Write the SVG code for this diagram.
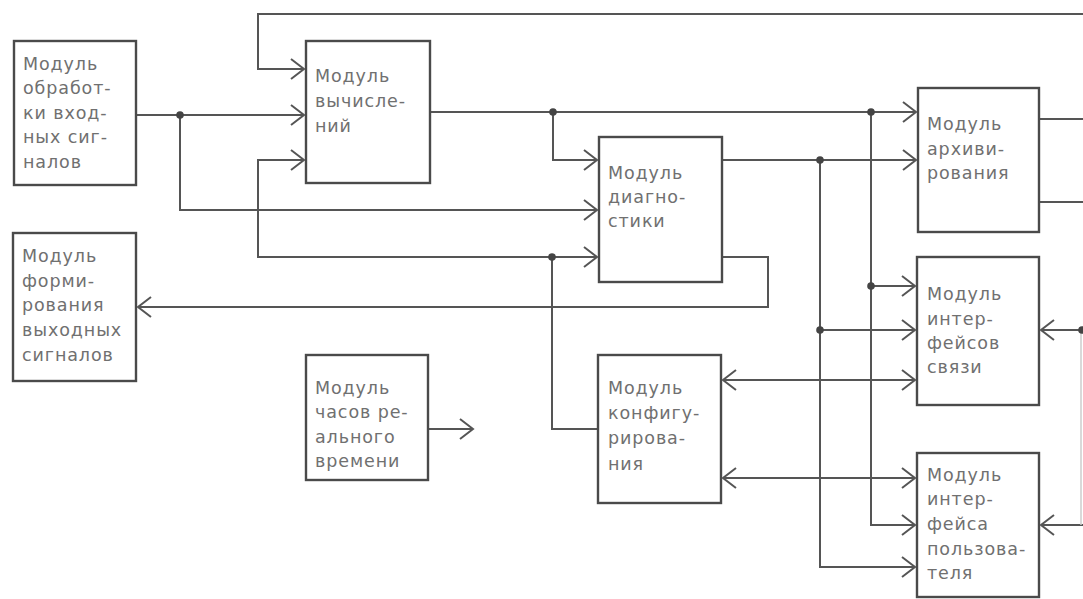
<svg xmlns="http://www.w3.org/2000/svg" width="1083" height="599" viewBox="0 0 1083 599">
<defs>
<style>
.box{fill:#fff;stroke:#4a4a4a;stroke-width:2.4}
.t{font-family:"DejaVu Sans","Liberation Sans",sans-serif;font-size:17.5px;fill:#707070;letter-spacing:0.9px}
.c{fill:none;stroke:#555;stroke-width:2}
.dot{fill:#444}
</style>
<marker id="a" viewBox="-14 -11 16 22" refX="0" refY="0" markerWidth="16" markerHeight="22" markerUnits="userSpaceOnUse" orient="auto-start-reverse">
<path d="M-13,-10 L0,0 L-13,10" fill="none" stroke="#555" stroke-width="2"/>
</marker>
</defs>
<rect width="1083" height="599" fill="#fff"/>
<g id="connectors">
<path class="c" d="M136,115 H304" marker-end="url(#a)"/>
<path class="c" d="M180,115 V210 H597" marker-end="url(#a)"/>
<path class="c" d="M1083,14 H258 V69 H304" marker-end="url(#a)"/>
<path class="c" d="M552,257 H258 V160 H304" marker-end="url(#a)"/>
<path class="c" d="M552,257 H597" marker-end="url(#a)"/>
<path class="c" d="M552,257 V429 H598"/>
<path class="c" d="M430,112 H916" marker-end="url(#a)"/>
<path class="c" d="M553,112 V160 H597" marker-end="url(#a)"/>
<path class="c" d="M871,112 V525 H915" marker-end="url(#a)"/>
<path class="c" d="M871,286 H915" marker-end="url(#a)"/>
<path class="c" d="M722,160 H916" marker-end="url(#a)"/>
<path class="c" d="M820,160 V567 H915" marker-end="url(#a)"/>
<path class="c" d="M820,330 H915" marker-end="url(#a)"/>
<path class="c" d="M722,257 H768 V307 H138" marker-end="url(#a)"/>
<path class="c" d="M723,380 H915" marker-start="url(#a)" marker-end="url(#a)"/>
<path class="c" d="M723,478 H915" marker-start="url(#a)" marker-end="url(#a)"/>
<path class="c" d="M428,429 H473" marker-end="url(#a)"/>
<path class="c" d="M1039,119 H1083"/>
<path class="c" d="M1039,202 H1083"/>
<path class="c" d="M1083,330 H1041" marker-end="url(#a)"/>
<path class="c" d="M1083,525 H1041" marker-end="url(#a)"/>
<path d="M1081,330 V525" fill="none" stroke="#ccc" stroke-width="1.5"/>
<circle class="dot" cx="180" cy="115" r="3.8"/>
<circle class="dot" cx="553" cy="112" r="3.8"/>
<circle class="dot" cx="871" cy="112" r="3.8"/>
<circle class="dot" cx="820" cy="160" r="3.8"/>
<circle class="dot" cx="552" cy="257" r="3.8"/>
<circle class="dot" cx="871" cy="286" r="3.8"/>
<circle class="dot" cx="820" cy="330" r="3.8"/>
<circle class="dot" cx="1082" cy="330" r="3.8"/>
</g>
<g id="n-input">
<rect class="box" x="14" y="41" width="122" height="144"/>
<text class="t" x="23" y="70">Модуль</text>
<text class="t" x="23" y="94">обработ-</text>
<text class="t" x="23" y="119">ки вход-</text>
<text class="t" x="23" y="143">ных сиг-</text>
<text class="t" x="23" y="168">налов</text>
</g>
<g id="n-calc">
<rect class="box" x="306" y="41" width="124" height="142"/>
<text class="t" x="315" y="82">Модуль</text>
<text class="t" x="315" y="107">вычисле-</text>
<text class="t" x="315" y="132">ний</text>
</g>
<g id="n-diag">
<rect class="box" x="599" y="137" width="123" height="145"/>
<text class="t" x="608" y="179">Модуль</text>
<text class="t" x="608" y="203">диагно-</text>
<text class="t" x="608" y="227">стики</text>
</g>
<g id="n-archive">
<rect class="box" x="918" y="88" width="121" height="144"/>
<text class="t" x="927" y="130">Модуль</text>
<text class="t" x="927" y="155">архиви-</text>
<text class="t" x="927" y="179">рования</text>
</g>
<g id="n-comm">
<rect class="box" x="917" y="257" width="122" height="148"/>
<text class="t" x="927" y="300">Модуль</text>
<text class="t" x="927" y="325">интер-</text>
<text class="t" x="927" y="349">фейсов</text>
<text class="t" x="927" y="373">связи</text>
</g>
<g id="n-user">
<rect class="box" x="917" y="453" width="122" height="144"/>
<text class="t" x="927" y="481">Модуль</text>
<text class="t" x="927" y="505">интер-</text>
<text class="t" x="927" y="530">фейса</text>
<text class="t" x="927" y="555">пользова-</text>
<text class="t" x="927" y="579">теля</text>
</g>
<g id="n-output">
<rect class="box" x="13" y="233" width="123" height="148"/>
<text class="t" x="22" y="262">Модуль</text>
<text class="t" x="22" y="287">форми-</text>
<text class="t" x="22" y="311">рования</text>
<text class="t" x="22" y="336">выходных</text>
<text class="t" x="22" y="361">сигналов</text>
</g>
<g id="n-clock">
<rect class="box" x="306" y="355" width="122" height="125"/>
<text class="t" x="315" y="394">Модуль</text>
<text class="t" x="315" y="418">часов ре-</text>
<text class="t" x="315" y="443">ального</text>
<text class="t" x="315" y="467">времени</text>
</g>
<g id="n-config">
<rect class="box" x="598" y="355" width="123" height="148"/>
<text class="t" x="608" y="394">Модуль</text>
<text class="t" x="608" y="419">конфигу-</text>
<text class="t" x="608" y="444">рирова-</text>
<text class="t" x="608" y="470">ния</text>
</g>
</svg>
